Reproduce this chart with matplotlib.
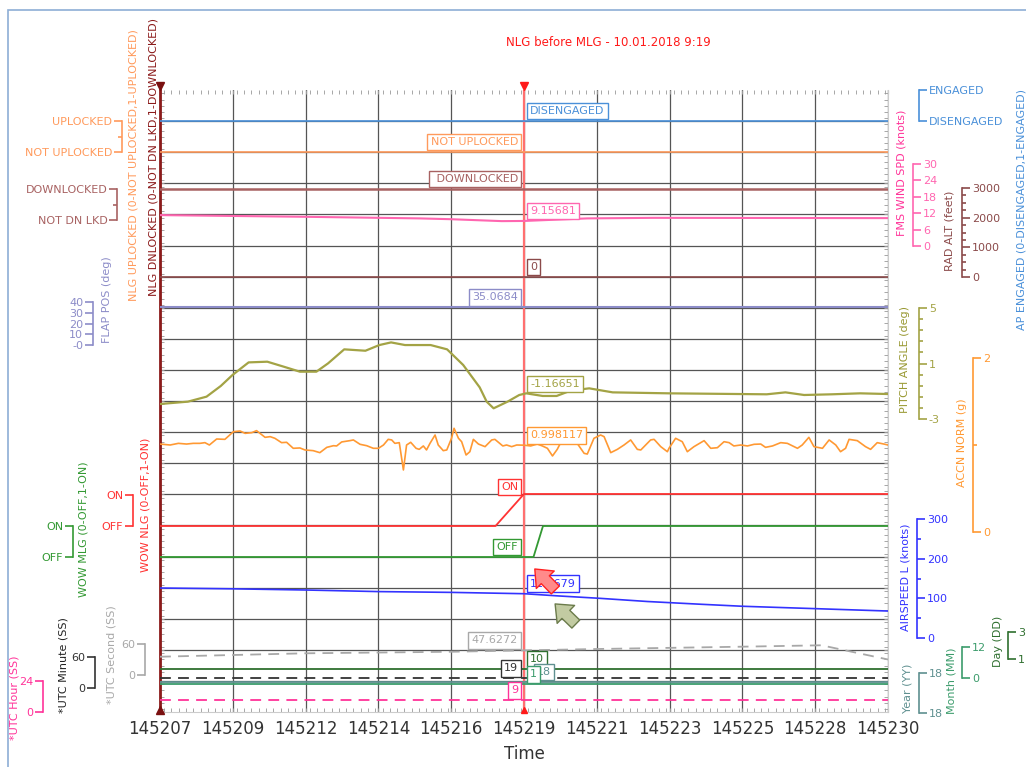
import numpy as np
import matplotlib
matplotlib.use('Agg')
import matplotlib.pyplot as plt
from matplotlib.ticker import FixedLocator, MultipleLocator
from matplotlib.patches import Rectangle

W, H = 1026, 767

# ---- data -------------------------------------------------------------
# time in seconds after 14:52:00
t_start, t_end = 7.0, 30.0
cursor_t = 18.5
time_labels = ['145207', '145209', '145212', '145214', '145216', '145219',
               '145221', '145223', '145225', '145228', '145230']

span_t = [t_start, t_end]

ap_engaged = [0, 0]
nlg_uplocked = [0, 0]
nlg_dnlocked = [1, 1]
rad_alt = [0, 0]
flap_pos = [35.0684, 35.0684]
utc_hour = [9, 9]
utc_minute = [19, 19]
year = [18, 18]
month = [1, 1]
day = [10, 10]

wind_t = [7.0, 11.5, 15.2, 16.2, 17.8, 18.5, 20.5, 22.6, 30.0]
wind_kt = [11.3, 10.7, 10.1, 9.8, 9.1, 9.16, 10.1, 10.3, 10.2]

pitch_t = [7.00, 7.88, 8.47, 8.92, 9.29, 9.80, 10.39, 10.91, 11.42, 11.94, 12.31,
           12.82, 13.49, 13.93, 14.30, 14.74, 15.55, 16.07, 16.58, 17.10, 17.32,
           17.54, 17.98, 18.35, 18.57, 19.09, 19.53, 19.97, 20.56, 21.30, 23.07,
           26.17, 26.76, 27.35, 28.23, 29.12, 30.00]
pitch_deg = [-1.92, -1.75, -1.39, -0.62, 0.17, 1.08, 1.13, 0.77, 0.41, 0.41, 1.01,
             2.02, 1.92, 2.33, 2.52, 2.33, 2.33, 2.02, 0.89, -0.72, -1.75,
             -2.23, -1.75, -1.27, -1.15, -1.34, -1.34, -0.96, -0.79, -1.08, -1.15,
             -1.22, -1.08, -1.27, -1.22, -1.15, -1.20]

accn_t = [7.00, 7.32, 7.58, 7.84, 8.05, 8.26, 8.42, 8.56, 8.79, 9.05, 9.32, 9.53,
          9.69, 9.90, 10.05, 10.32, 10.48, 10.63, 10.84, 11.00, 11.21, 11.42,
          11.58, 11.84, 12.05, 12.27, 12.48, 12.58, 12.74, 13.00, 13.11, 13.32,
          13.53, 13.74, 13.90, 14.06, 14.21, 14.32, 14.42, 14.56, 14.69, 14.79,
          14.92, 15.09, 15.19, 15.32, 15.42, 15.53, 15.69, 15.79, 15.95, 16.06,
          16.21, 16.29, 16.43, 16.53, 16.67, 16.79, 16.90, 17.06, 17.27, 17.48,
          17.58, 17.83, 17.95, 18.11, 18.27, 18.50, 18.71, 18.92, 19.08, 19.24,
          19.40, 19.55, 19.66, 19.87, 20.18, 20.40, 20.50, 20.71, 20.92, 21.03,
          21.24, 21.45, 21.66, 21.87, 22.08, 22.19, 22.50, 22.61, 22.82, 23.03,
          23.08, 23.29, 23.50, 23.66, 23.87, 24.19, 24.40, 24.61, 24.82, 24.98,
          25.13, 25.35, 25.56, 25.77, 25.98, 26.13, 26.35, 26.61, 26.82, 27.14,
          27.29, 27.50, 27.66, 27.93, 28.14, 28.35, 28.50, 28.66, 28.77, 29.03,
          29.29, 29.45, 29.66, 29.87, 30.00]
accn_g = [1.011, 1.000, 1.019, 1.011, 1.019, 1.019, 1.027, 1.000, 1.069, 1.065,
          1.153, 1.161, 1.134, 1.142, 1.165, 1.088, 1.096, 1.077, 1.027, 1.031,
          0.962, 0.966, 0.943, 0.935, 0.912, 0.973, 0.992, 0.989, 1.035, 1.050,
          1.058, 1.008, 0.992, 0.962, 0.962, 1.000, 1.065, 1.058, 1.019, 1.027,
          0.713, 1.000, 1.031, 0.962, 0.950, 0.989, 0.943, 1.019, 1.115, 1.000,
          0.935, 0.943, 1.077, 1.192, 1.077, 1.038, 0.885, 0.923, 1.065, 1.011,
          0.981, 1.058, 1.065, 0.989, 1.000, 0.981, 1.000, 0.998, 0.989, 1.011,
          0.989, 0.962, 0.874, 0.950, 1.027, 1.019, 1.019, 0.904, 0.896, 1.077,
          1.115, 1.096, 0.912, 0.950, 1.000, 1.058, 0.950, 0.943, 1.058, 1.065,
          0.981, 0.923, 0.962, 1.077, 1.038, 0.923, 0.981, 1.050, 0.962, 0.969,
          1.038, 1.027, 0.989, 1.000, 0.989, 1.008, 1.011, 0.973, 0.989, 1.027,
          1.019, 0.962, 1.000, 1.088, 0.981, 0.962, 1.058, 1.000, 0.923, 0.962,
          1.065, 1.050, 0.981, 0.950, 1.027, 1.011, 1.000]

wow_nlg_t = [7.0, 17.6, 18.5, 30.0]
wow_nlg = [0, 0, 1, 1]
wow_mlg_t = [7.0, 18.8, 19.1, 30.0]
wow_mlg = [0, 0, 1, 1]

speed_t = [7.0, 9.3, 11.6, 13.9, 16.2, 18.5, 19.6, 20.9, 22.4, 24.1, 25.4, 27.7, 30.0]
speed_kt = [126, 124, 121, 117, 115, 111.679, 106, 100, 92, 85, 80, 74, 68]

utc_sec_t = [7.0, 11.6, 16.2, 18.5, 20.8, 25.4, 27.9, 30.0]
utc_sec = [35.4, 42.0, 45.0, 47.6272, 50.3, 54.8, 57.5, 30.0]

# ---- layout helpers ---------------------------------------------------
def fx(px):
    return px / W

def fy(py):
    return 1 - py / H

def band(vals, lo, hi, px_lo, px_hi):
    vals = np.asarray(vals, float)
    return px_lo + (vals - lo) / (hi - lo) * (px_hi - px_lo)

fig = plt.figure(figsize=(W / 100, H / 100), dpi=100)
fig.patch.set_facecolor('white')

fig.patches.append(Rectangle((fx(8), -0.1), 1.2, fy(10) + 0.1, transform=fig.transFigure,
                             fill=False, ec='#8eaed6', lw=1.2))

ax = fig.add_axes([fx(160), fy(712), fx(888) - fx(160), fy(90) - fy(712)])
ax.set_xlim(t_start, t_end)
ax.set_ylim(712, 90)

ax.set_xticks(np.linspace(t_start, t_end, 11))
ax.set_xticklabels(time_labels)
ax.xaxis.set_minor_locator(MultipleLocator(0.23))
ax.set_yticks(np.linspace(90, 712, 21)[1:-1])
ax.set_yticklabels([])
ax.yaxis.set_minor_locator(MultipleLocator(622 / 100))
ax.grid(True, which='major', color='#555555', lw=0.9)
ax.set_axisbelow(True)
ax.tick_params(axis='x', which='both', direction='in', top=True, bottom=True,
               color='#999999', length=3, labelsize=12, labelcolor='#333333', pad=6)
ax.tick_params(axis='y', which='both', direction='in', left=True, right=True,
               color='#999999', length=3)
ax.spines['top'].set_visible(False)
ax.spines['right'].set_color('#cccccc')
ax.spines['bottom'].set_color('#cccccc')
ax.spines['left'].set_color('#8b1a1a')
ax.spines['left'].set_linewidth(2)

ax.plot([t_start], [86], marker='v', ms=6, color='#7a1010', clip_on=False, zorder=12)
ax.plot([t_start], [710], marker='^', ms=6, color='#7a1010', clip_on=False, zorder=12)
ax.axvline(cursor_t, color='#ff7070', lw=1.6, zorder=5)
ax.plot([cursor_t], [86], marker='v', ms=6, color='#ff1a1a', clip_on=False, zorder=12)
ax.plot([cursor_t], [710], marker='^', ms=4, color='#ff1a1a', clip_on=False, zorder=12)

fig.text(fx(608), fy(42), 'NLG before MLG - 10.01.2018 9:19', color='#ff1a1a',
         fontsize=8.5, ha='center', va='center')
fig.text(fx(524), fy(754), 'Time', color='#333333', fontsize=12, ha='center', va='center')


def bracket(x, px_lo, px_hi, lim, ticks, labels, color, side, minor=None):
    a = fig.add_axes([fx(x), fy(px_lo), 0.0001, fy(px_hi) - fy(px_lo)])
    a.patch.set_visible(False)
    for s in a.spines.values():
        s.set_visible(False)
    a.spines[side].set_visible(True)
    a.spines[side].set_color(color)
    a.spines[side].set_linewidth(1.2)
    a.set_xticks([])
    a.set_ylim(*lim)
    if side == 'right':
        a.yaxis.tick_right()
    a.set_yticks(ticks)
    a.set_yticklabels(labels)
    if minor is not None:
        a.yaxis.set_minor_locator(FixedLocator(minor))
    a.tick_params(axis='y', which='major', colors=color, labelsize=8, length=6, width=1.2, pad=1)
    a.tick_params(axis='y', which='minor', colors=color, length=3, width=1.2)
    return a


def value_label(t, v, lo, hi, px_lo, px_hi, text, color, side, dy=10, dx=6):
    y = band(np.interp(cursor_t, t, v), lo, hi, px_lo, px_hi)
    ax.annotate(text, xy=(cursor_t, y), xytext=(dx if side == 'r' else -dx, dy),
                textcoords='offset pixels', ha='left' if side == 'r' else 'right',
                va='center', fontsize=8, color=color, zorder=20,
                bbox=dict(boxstyle='square,pad=0.3', fc='white', ec=color, lw=1))


# t, values, color, lw, ls, scale, trace px band, bracket x, bracket px band, side,
# ticks, tick labels, minor ticks, cursor label, label side
series = [
    (span_t, ap_engaged, '#4a90d9', 1.2, '-', (0, 1), (121, 90), 919, (121, 90), 'right',
     [0, 1], ['DISENGAGED', 'ENGAGED'], None, 'DISENGAGED', 'r'),
    (span_t, nlg_uplocked, '#ff9a5c', 1.2, '-', (0, 1), (152, 121), 122, (152, 121), 'left',
     [0, 1], ['NOT UPLOCKED', 'UPLOCKED'], [0.5], 'NOT UPLOCKED', 'l'),
    (span_t, nlg_dnlocked, '#a86262', 1.8, '-', (0, 1), (220, 189), 117, (220, 189), 'left',
     [0, 1], ['NOT DN LKD', 'DOWNLOCKED'], [0.5], ' DOWNLOCKED', 'l'),
    (wind_t, wind_kt, '#ff66b0', 1.5, '-', (0, 30), (246, 164), 913, (246, 164), 'right',
     [0, 6, 12, 18, 24, 30], ['0', '6', '12', '18', '24', '30'], None, '9.15681', 'r'),
    (span_t, rad_alt, '#8b4a4a', 1.2, '-', (0, 3000), (277, 188), 962, (277, 188), 'right',
     [0, 1000, 2000, 3000], ['0', '1000', '2000', '3000'],
     [250, 500, 750, 1250, 1500, 1750, 2250, 2500, 2750], '0', 'r'),
    (span_t, flap_pos, '#8c8cc8', 1.5, '-', (0, 40), (345, 302), 93, (345, 302), 'left',
     [0, 10, 20, 30, 40], ['-0', '10', '20', '30', '40'], None, '35.0684', 'l'),
    (pitch_t, pitch_deg, '#a3a345', 1.6, '-', (-3, 5), (419, 308), 919, (419, 308), 'right',
     [-3, 1, 5], ['-3', '1', '5'], list(np.linspace(-3, 5, 11)), '-1.16651', 'r'),
    (accn_t, accn_g, '#ff9933', 1.2, '-', (0, 2), (532, 358), 973, (532, 358), 'right',
     [0, 2], ['0', '2'], [1], '0.998117', 'r'),
    (wow_nlg_t, wow_nlg, '#ff3333', 1.3, '-', (0, 1), (526, 494), 133, (526, 495), 'left',
     [0, 1], ['OFF', 'ON'], None, 'ON', 'l'),
    (wow_mlg_t, wow_mlg, '#339933', 1.3, '-', (0, 1), (557, 526), 73, (557, 526), 'left',
     [0, 1], ['OFF', 'ON'], None, 'OFF', 'l'),
    (speed_t, speed_kt, '#3333ff', 1.2, '-', (0, 300), (638, 519), 917, (638, 519), 'right',
     [0, 100, 200, 300], ['0', '100', '200', '300'], [50, 150, 250], '111.679', 'r'),
    (utc_sec_t, utc_sec, '#a8a8a8', 1.3, (0, (6, 4)), (0, 60), (675, 644), 145, (675, 644), 'left',
     [0, 60], ['0', '60'], None, '47.6272', 'l'),
    (span_t, utc_minute, '#333333', 1.3, (0, (6, 4)), (0, 60), (688, 657), 95, (688, 657), 'left',
     [0, 60], ['0', '60'], None, '19', 'l'),
    (span_t, utc_hour, '#ff3399', 1.3, (0, (6, 4)), (0, 24), (712, 681), 43, (712, 681), 'left',
     [0, 24], ['0', '24'], None, '9', 'l'),
    (span_t, day, '#2f6f2f', 1.3, '-', (1, 31), (677, 650), 1008, (659, 632), 'right',
     [1, 31], ['1', '31'], None, '10', 'r'),
    (span_t, year, '#5f9090', 1.3, '-', (17, 19), (697, 667), 919, (713, 673), 'right',
     [17, 19], ['18', '18'], None, '18', 'r'),
    (span_t, month, '#3c9c6c', 1.3, '-', (0, 12), (687, 656), 962, (678, 647), 'right',
     [0, 12], ['0', '12'], None, '1', 'r'),
]

for (t, v, color, lw, ls, (lo, hi), (p0, p1), bx, (b0, b1), side,
     ticks, tlabels, minor, ctext, cside) in series:
    ax.plot(t, band(v, lo, hi, p0, p1), color=color, lw=lw, ls=ls, zorder=6)
    bracket(bx, b0, b1, (lo, hi), ticks, tlabels, color, side, minor)
    dy = 7 if ctext == 'ON' else 10
    dx = 13 if ctext == '18' else 6
    value_label(t, v, lo, hi, p0, p1, ctext, color, cside, dy=dy, dx=dx)

axis_titles = [
    ('NLG UPLOCKED (0-NOT UPLOCKED,1-UPLOCKED)', 133, 165, '#ff9a5c'),
    ('NLG DNLOCKED (0-NOT DN LKD,1-DOWNLOCKED)', 153, 157, '#8b1a1a'),
    ('FLAP POS (deg)', 107, 300, '#8c8cc8'),
    ('WOW MLG (0-OFF,1-ON)', 83, 529, '#339933'),
    ('WOW NLG (0-OFF,1-ON)', 145, 505, '#ff3333'),
    ('*UTC Hour (SS)', 15, 698, '#ff3399'),
    ('*UTC Minute (SS)', 63, 665, '#222222'),
    ('*UTC Second (SS)', 112, 655, '#a8a8a8'),
    ('AP ENGAGED (0-DISENGAGED,1-ENGAGED)', 1021, 210, '#4a90d9'),
    ('FMS WIND SPD (knots)', 902, 173, '#ff3399'),
    ('RAD ALT (feet)', 950, 231, '#8b4a4a'),
    ('PITCH ANGLE (deg)', 905, 360, '#999933'),
    ('ACCN NORM (g)', 962, 443, '#ff9933'),
    ('AIRSPEED L (knots)', 906, 577, '#3333ff'),
    ('Year (YY)', 908, 688, '#5f9090'),
    ('Month (MM)', 952, 681, '#3c9c6c'),
    ('Day (DD)', 998, 641, '#2f6f2f'),
]
for text, x, y, color in axis_titles:
    fig.text(fx(x), fy(y), text, rotation=90, color=color, fontsize=8,
             ha='center', va='center')

# highlight arrows near the cursor
arrow_style = 'simple,head_length=0.6,head_width=1.0,tail_width=0.45'
ax.annotate('', xy=(18.78, 567), xytext=(19.55, 592), zorder=30,
            arrowprops=dict(arrowstyle=arrow_style, fc='#ff8a8a', ec='#ff2020', lw=1,
                            mutation_scale=18))
ax.annotate('', xy=(19.42, 602), xytext=(20.2, 626), zorder=30,
            arrowprops=dict(arrowstyle=arrow_style, fc='#c2cba2', ec='#6b7b4b', lw=1,
                            mutation_scale=18))

fig.savefig('out.png', dpi=100)
